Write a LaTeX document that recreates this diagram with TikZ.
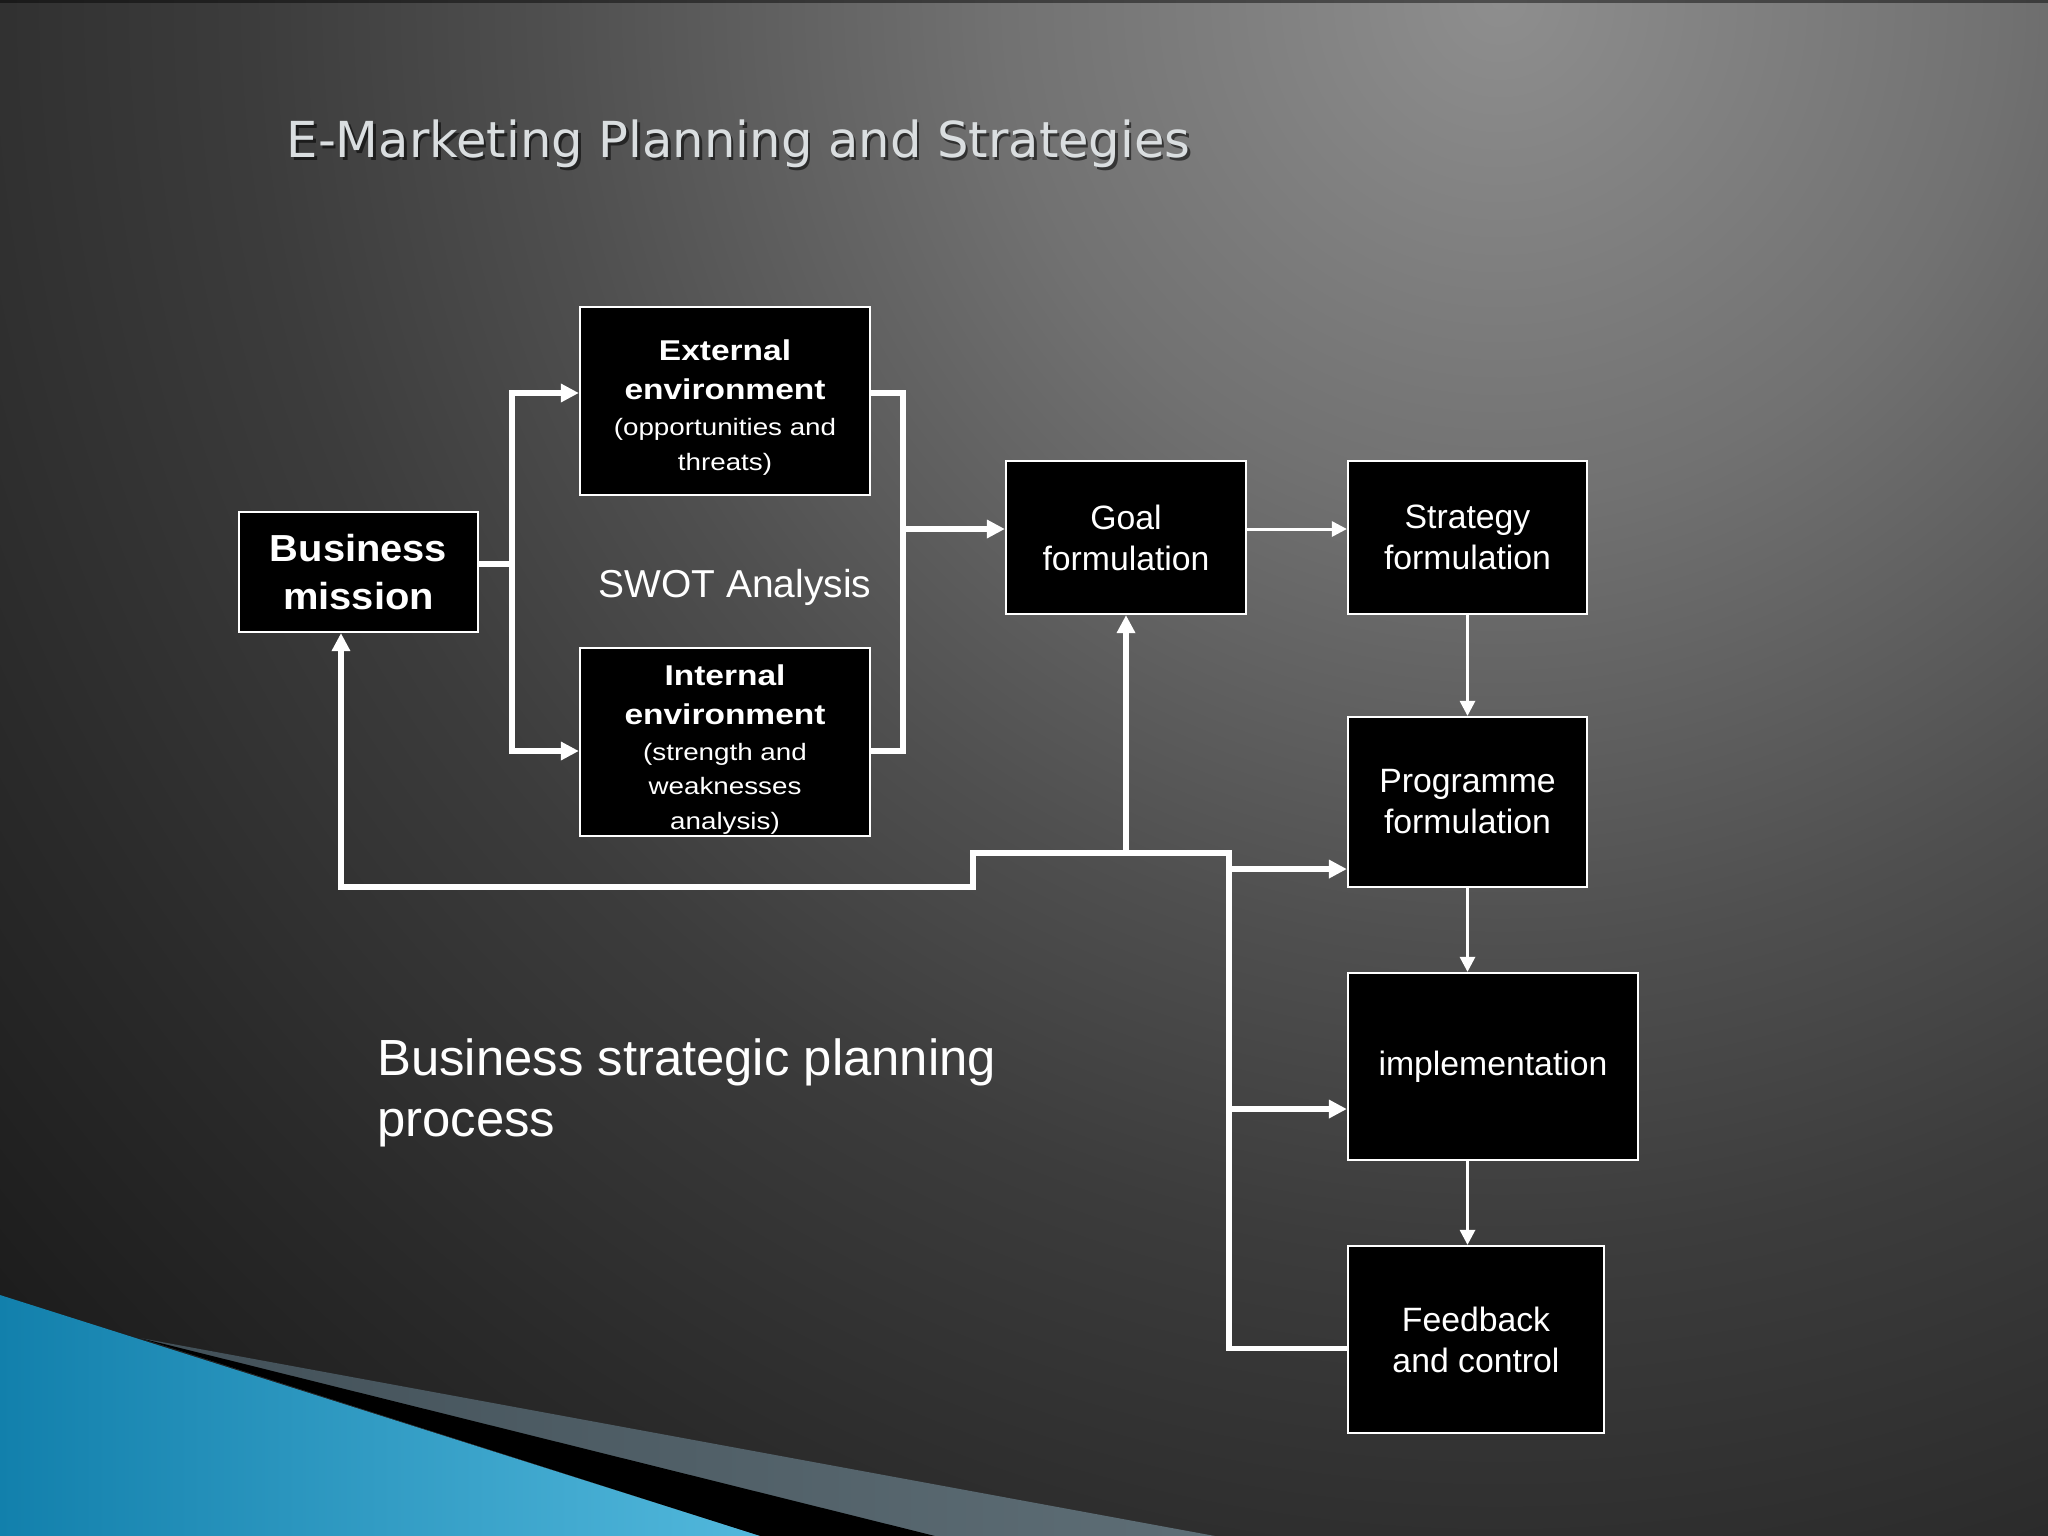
\documentclass[tikz,border=0pt]{standalone}
\usepackage{fontspec}
\setmainfont{Liberation Sans}
\newfontfamily\arial{Liberation Sans}
\newfontfamily\arialwide[FakeStretch=1.17]{Liberation Sans}
\newfontfamily\arialmid[FakeStretch=1.06]{Liberation Sans}
\newfontfamily\dejavu{DejaVu Sans}
\usetikzlibrary{arrows.meta}
\definecolor{bgA}{gray}{0.557}
\definecolor{bgB}{gray}{0.445}
\definecolor{bgC}{gray}{0.31}
\definecolor{bgD}{gray}{0.235}
\definecolor{bgE}{gray}{0.165}
\definecolor{bgF}{gray}{0.110}
\definecolor{titlecol}{RGB}{218,222,224}
\definecolor{blueA}{RGB}{18,128,172}
\definecolor{blueB}{RGB}{82,184,220}
\definecolor{stripeA}{RGB}{66,80,88}
\definecolor{stripeB}{RGB}{94,110,118}
\pgfdeclareradialshading{bgrad}{\pgfpoint{0bp}{0bp}}{color(0bp)=(bgA); color(6.25bp)=(bgB); color(11.875bp)=(bgC); color(15.625bp)=(bgD); color(20.625bp)=(bgE); color(25bp)=(bgF); color(50bp)=(bgF)}
\newcommand{\bxline}[1]{{\bfseries\fontsize{8.14}{9.8}\selectfont #1}}
\begin{document}
\begin{tikzpicture}[x=0.01cm,y=-0.01cm,
  box/.style={draw=white, line width=0.6pt, fill=black, text=white, inner sep=0pt, align=center},
  boxtext/.style={font=\arial\fontsize{9.6}{11.67}\selectfont},
  thickline/.style={white, line width=1.6pt},
  thickarrow/.style={thickline, -{Triangle[length=5.1pt,width=5pt]}},
  thinarrow/.style={white, line width=0.85pt, -{Triangle[length=4.3pt,width=4.3pt]}},
  label/.style={text=white, inner sep=0pt}]
\useasboundingbox (0,0) rectangle (2048,1536);
% background
\begin{scope}
  \clip (0,0) rectangle (2048,1536);
  \shade[shading=bgrad] (-500,-2000) rectangle (3500,2000);
  \fill[black, opacity=0.45] (0,0) rectangle (2048,3);
  % bottom-left decoration
  \shade[left color=stripeA, right color=stripeB] (140,1338) -- (1215,1536) -- (760,1536) -- cycle;
  \fill[black] (140,1338) -- (935,1536) -- (760,1536) -- cycle;
  \shade[left color=blueA, right color=blueB] (0,1295) -- (760,1536) -- (0,1536) -- cycle;
\end{scope}
% title
\node[anchor=base west, inner sep=0pt, font=\dejavu\fontsize{14.1}{17}\selectfont, text=black, opacity=0.55] (titleshadow) at (288.5,160.2) {E-Marketing Planning and Strategies};
\node[anchor=base west, inner sep=0pt, font=\dejavu\fontsize{14.1}{17}\selectfont, text=titlecol] (title) at (286,157.7) {E-Marketing Planning and Strategies};
% boxes
\node[box, minimum width=2.39cm, minimum height=1.2cm, font=\arialmid\bfseries\fontsize{10.7}{13.4}\selectfont] (mission) at (358.5,572) {Business\\mission};
\node[box, minimum width=2.9cm, minimum height=1.88cm, font=\arialwide\fontsize{6.75}{9.8}\selectfont] (ext) at (725,401) {\rule{0pt}{9.6pt}\bxline{External}\\[1.3pt]\bxline{environment}\\[0.5pt](opportunities and\\threats)};
\node[box, minimum width=2.9cm, minimum height=1.88cm, font=\arialwide\fontsize{6.75}{9.8}\selectfont] (int) at (725,742) {\rule{0pt}{10pt}\bxline{Internal}\\[1.3pt]\bxline{environment}\\[0.5pt](strength and\\weaknesses\\analysis)};
\node[box, boxtext, minimum width=2.4cm, minimum height=1.53cm] (goal) at (1126,537.5) {Goal\\formulation};
\node[box, boxtext, minimum width=2.39cm, minimum height=1.53cm] (strat) at (1467.5,537.5) {Strategy\\formulation};
\node[box, boxtext, minimum width=2.39cm, minimum height=1.7cm] (prog) at (1467.5,802) {Programme\\formulation};
\node[box, boxtext, minimum width=2.9cm, minimum height=1.87cm] (impl) at (1493,1066.5) {implementation};
\node[box, boxtext, minimum width=2.56cm, minimum height=1.87cm] (feed) at (1476,1339.5) {Feedback\\and control};
% free texts
\node[label, anchor=base, font=\arial\fontsize{11.07}{13}\selectfont] (swot) at (735,597) {SWOT Analysis};
\node[label, anchor=base west, font=\arial\fontsize{14.45}{17.5}\selectfont] (bsp1) at (376.7,1075) {Business strategic planning};
\node[label, anchor=base west, font=\arial\fontsize{14.45}{17.5}\selectfont] (bsp2) at (376.7,1136.7) {process};
% connectors
\coordinate (j1) at (512,564);
\draw[thickline] (mission.east |- j1) -- (j1);
\draw[thickarrow] (j1) |- ([yshift=0.08cm]ext.west);
\draw[thickarrow] (j1) |- ([yshift=-0.09cm]int.west);
\coordinate (j2) at (903,529);
\draw[thickline] ([yshift=0.08cm]ext.east) -| (j2);
\draw[thickline] ([yshift=-0.09cm]int.east) -| (j2);
\draw[thickarrow] (j2) -- (goal.west |- j2);
\draw[thinarrow] (goal.east |- j2) -- (strat.west |- j2);
\draw[thinarrow] (strat.south) -- (prog.north);
\draw[thinarrow] (prog.south) -- (prog.south |- impl.north);
\draw[thinarrow] (prog.south |- impl.south) -- (prog.south |- feed.north);
\coordinate (j3) at (1229,853);
\coordinate (j4) at (973,853);
\coordinate (j5) at (973,887);
\draw[thickarrow] ([yshift=-0.09cm]feed.west) -| (j3) -- (j4) -- (j5) -| ([xshift=-0.175cm]mission.south);
\draw[thickarrow] (goal.south |- j4) -- (goal.south);
\coordinate (pin) at ([yshift=-0.67cm]prog.west);
\draw[thickarrow] (pin -| j3) -- (pin);
\coordinate (iin) at ([yshift=-0.425cm]impl.west);
\draw[thickarrow] (iin -| j3) -- (iin);
\end{tikzpicture}
\end{document}
